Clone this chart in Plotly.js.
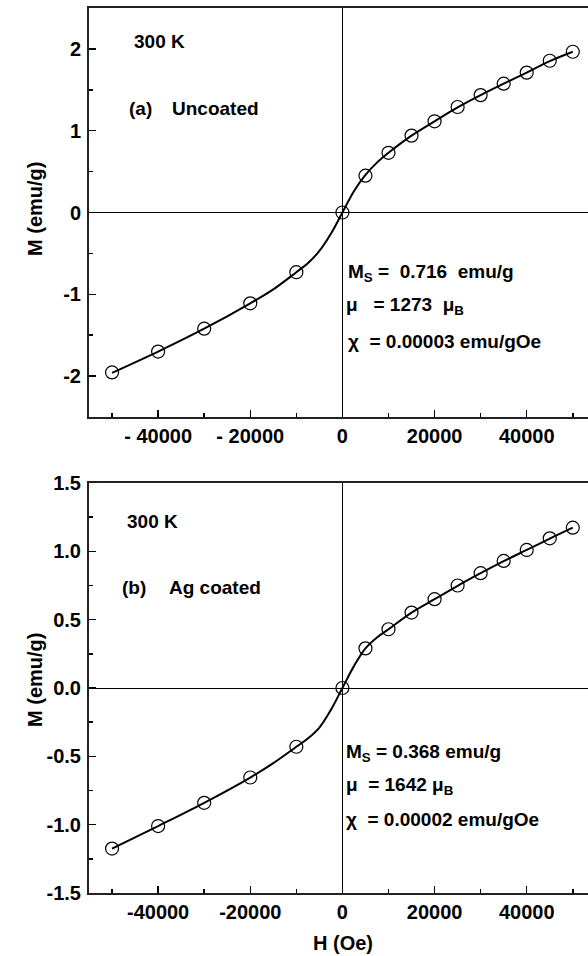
<!DOCTYPE html>
<html>
<head>
<meta charset="utf-8">
<script src="https://cdn.plot.ly/plotly-3.0.1.min.js"></script>
<style>html,body{margin:0;padding:0;background:#fff}#chart{width:588px;height:956px}</style>
</head>
<body>
<div id="chart"></div>
<script>
// ---- data ----
var H_a = [-50000,-40000,-30000,-20000,-10000,0,5000,10000,15000,20000,25000,30000,35000,40000,45000,50000];
var M_a = [-1.955,-1.70,-1.42,-1.11,-0.73,0,0.45,0.73,0.94,1.115,1.29,1.435,1.575,1.71,1.855,1.965];
var H_b = [-50000,-40000,-30000,-20000,-10000,0,5000,10000,15000,20000,25000,30000,35000,40000,45000,50000];
var M_b = [-1.175,-1.01,-0.84,-0.655,-0.43,0,0.29,0.43,0.552,0.65,0.75,0.84,0.93,1.01,1.095,1.173];

var fitH   = [-50000,-40000,-30000,-20000,-15000,-10000,-7500,-5000,-2500,0,2500,5000,7500,10000,15000,20000,25000,30000,35000,40000,45000,50000];
var fitM_a = [-1.96,-1.70,-1.42,-1.11,-0.94,-0.73,-0.62,-0.47,-0.26,0,0.26,0.46,0.61,0.73,0.94,1.115,1.285,1.435,1.575,1.71,1.85,1.965];
var fitM_b = [-1.175,-1.01,-0.84,-0.655,-0.55,-0.43,-0.37,-0.29,-0.16,0,0.16,0.29,0.37,0.43,0.552,0.65,0.748,0.84,0.928,1.01,1.093,1.173];

var xTickVals = [-40000,-20000,0,20000,40000];
var xTickText_a = ["- 40000","- 20000","0","20000","40000"];
var xTickText_b = ["-40000","-20000","0","20000","40000"];
var yTickVals_a = [-2,-1,0,1,2];
var yTickText_a = ["-2","-1","0","1","2"];
var yTickVals_b = [-1.5,-1.0,-0.5,0,0.5,1.0,1.5];
var yTickText_b = ["-1.5","-1.0","-0.5","0.0","0.5","1.0","1.5"];

// ---- layout helpers ----
var W = 588, Hh = 956;
function px(x){return x/W;}
function py(y){return 1 - y/Hh;}
var FONT = 'Liberation Sans, Arial, Helvetica, sans-serif';
var tfont = {family: FONT, size: 20, color: '#000', weight: 'bold'};
var afont = {family: FONT, size: 19, color: '#000', weight: 'bold'};

function lineTrace(x, y, xa, ya){
  return {x:x, y:y, xaxis:xa, yaxis:ya, mode:'lines', type:'scatter',
    line:{color:'#000', width:2, shape:'spline'}, hoverinfo:'skip', showlegend:false};
}
function markTrace(x, y, xa, ya){
  return {x:x, y:y, xaxis:xa, yaxis:ya, mode:'markers', type:'scatter',
    marker:{symbol:'circle-open', size:13, color:'#000', line:{width:1.2, color:'#000'}}, showlegend:false};
}

var data = [
  lineTrace(fitH, fitM_a, 'x', 'y'),
  markTrace(H_a, M_a, 'x', 'y'),
  lineTrace(fitH, fitM_b, 'x2', 'y2'),
  markTrace(H_b, M_b, 'x2', 'y2')
];

function xAxis(anchor, ttext){
  return {
    anchor: anchor, domain:[px(89), 1], range:[-55000, 53300],
    tickmode:'array', tickvals:xTickVals, ticktext:ttext,
    ticks:'inside', ticklen:7, tickwidth:1.5, tickcolor:'#000',
    minor:{tickmode:'linear', tick0:0, dtick:10000, ticks:'inside', ticklen:4, tickwidth:1.5, tickcolor:'#000'},
    showline:true, linecolor:'#222', linewidth:2, mirror:true,
    showgrid:false, zeroline:true, zerolinecolor:'#000', zerolinewidth:1,
    tickfont:tfont, fixedrange:true
  };
}
function yAxis(anchor, dom, range, tv, tt, minorStep){
  return {
    anchor: anchor, domain:dom, range:range,
    tickmode:'array', tickvals:tv, ticktext:tt,
    ticks:'inside', ticklen:7, tickwidth:1.5, tickcolor:'#000',
    minor:{tickmode:'linear', tick0:0, dtick:minorStep, ticks:'inside', ticklen:4, tickwidth:1.5, tickcolor:'#000'},
    showline:true, linecolor:'#222', linewidth:2,
    showgrid:false, zeroline:true, zerolinecolor:'#000', zerolinewidth:1,
    tickfont:tfont, ticklabelstandoff:2, fixedrange:true
  };
}

function ann(x, y, text, extra){
  var a = {xref:'paper', yref:'paper', x:px(x), y:py(y), text:text, showarrow:false,
    xanchor:'left', yanchor:'middle', font:afont, borderpad:0};
  if (extra) for (var k in extra) a[k] = extra[k];
  return a;
}
var NB = '\u00A0';
var annotations = [
  ann(133, 42, '300 K'),
  ann(128, 108, '(a)'),
  ann(171, 108, 'Uncoated'),
  ann(347, 273, 'M<sub>S</sub> =' + NB + NB + '0.716' + NB + NB + 'emu/g'),
  ann(345, 306, 'μ' + NB + NB + NB + '= 1273' + NB + NB + 'μ<sub>B</sub>'),
  ann(347, 342, 'χ' + NB + NB + '= 0.00003 emu/gOe'),
  ann(126, 521, '300 K'),
  ann(121, 587, '(b)'),
  ann(168, 587, 'Ag coated'),
  ann(345, 753, 'M<sub>S</sub> = 0.368 emu/g'),
  ann(345, 786, 'μ' + NB + NB + '= 1642 μ<sub>B</sub>'),
  ann(345, 819, 'χ' + NB + NB + '= 0.00002 emu/gOe'),
  ann(35, 209, 'M (emu/g)', {textangle:-90, xanchor:'center', font:tfont}),
  ann(35, 680, 'M (emu/g)', {textangle:-90, xanchor:'center', font:tfont}),
  ann(343, 943, 'H (Oe)', {xanchor:'center', font:tfont})
];

var layout = {
  width: W, height: Hh,
  margin:{l:0, r:0, t:0, b:0, pad:0},
  paper_bgcolor:'#fff', plot_bgcolor:'#fff',
  showlegend:false,
  xaxis: xAxis('y', xTickText_a),
  yaxis: yAxis('x', [py(417), py(8)], [-2.5, 2.5], yTickVals_a, yTickText_a, 0.5),
  xaxis2: xAxis('y2', xTickText_b),
  yaxis2: yAxis('x2', [py(893), py(483)], [-1.5, 1.5], yTickVals_b, yTickText_b, 0.25),
  annotations: annotations,
  font:{family:FONT, color:'#000'}
};

Plotly.newPlot('chart', data, layout, {displayModeBar:false, staticPlot:true});
</script>
</body>
</html>
